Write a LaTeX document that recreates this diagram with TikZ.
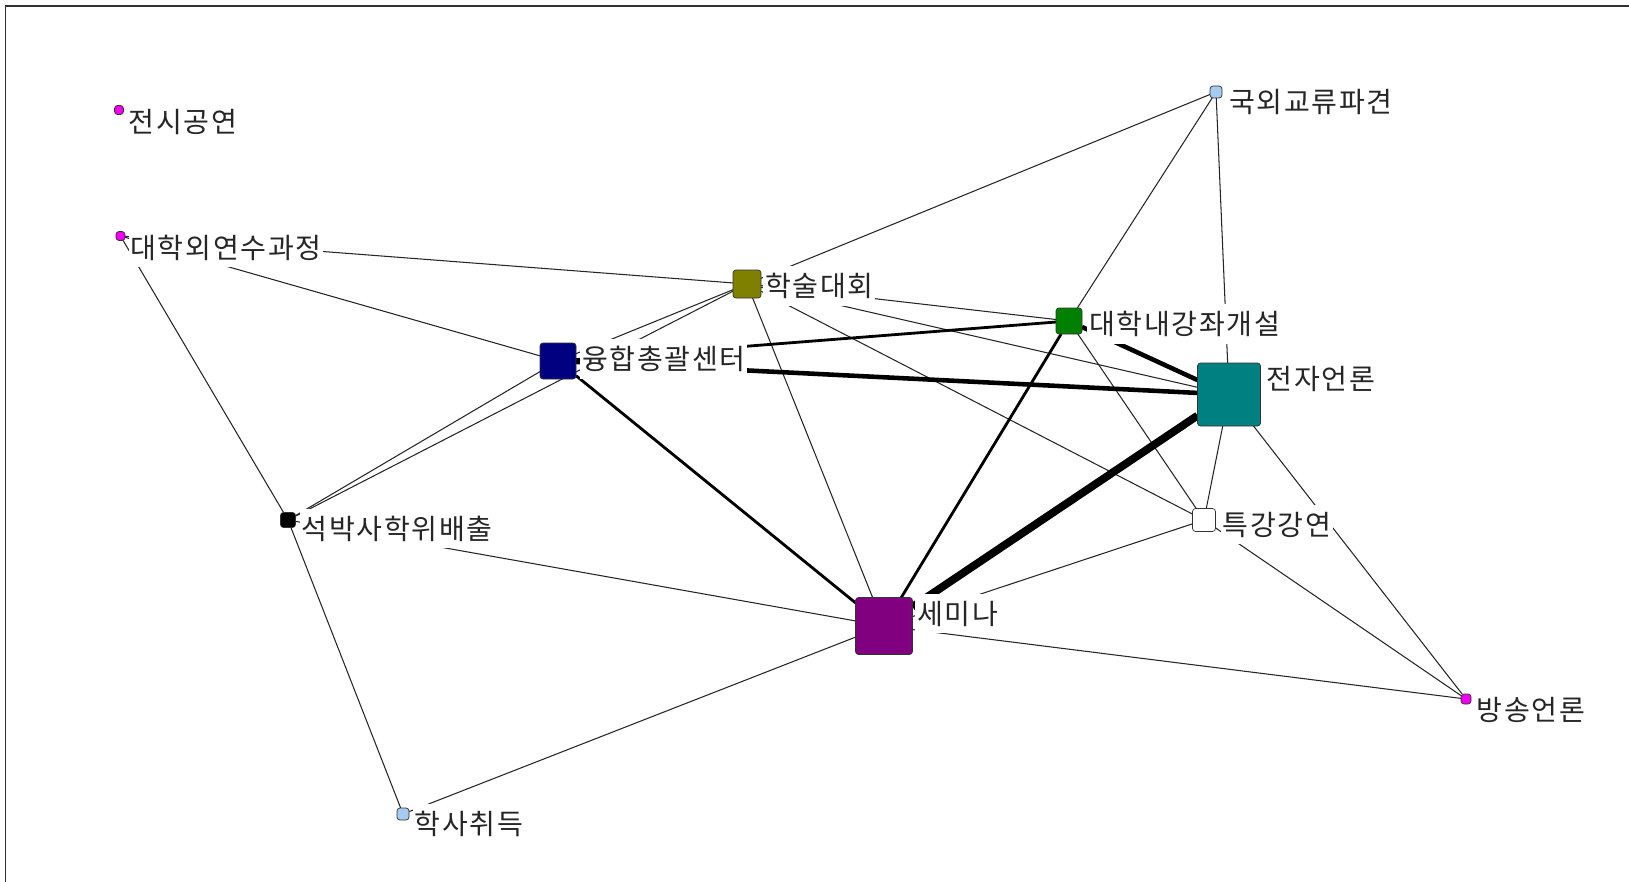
\documentclass[tikz,border=0pt]{standalone}
\usepackage{fontspec}
\setmainfont[LetterSpace=6]{Noto Sans CJK KR}

\definecolor{nodeMagenta}{RGB}{240,0,240}
\definecolor{nodeOlive}{RGB}{128,128,0}
\definecolor{nodeGreen}{RGB}{0,128,0}
\definecolor{nodeNavy}{RGB}{0,0,128}
\definecolor{nodeTeal}{RGB}{0,128,128}
\definecolor{nodeSky}{RGB}{166,202,240}
\definecolor{nodePurple}{RGB}{128,0,128}
\definecolor{frameGray}{RGB}{48,48,48}

\pgfdeclarelayer{background}
\pgfsetlayers{background,main}

\tikzset{
  actor/.style 2 args={draw=black!80, line width=0.4pt, rounded corners=0.06cm,
    fill=#1, minimum size=#2*0.02cm, inner sep=0pt, outer sep=0pt},
  actorName/.style={anchor=north west, fill=white, inner xsep=1pt, inner ysep=4pt,
    font=\fontsize{16}{18}\selectfont, text=black!85},
  tie/.style={line width=0.6pt, black!85},
  midTie/.style={line width=1.6pt},
  strongTie/.style={line width=2.6pt},
  topTie/.style={line width=4.5pt},
}

\begin{document}
\begin{tikzpicture}[x=0.02cm, y=-0.02cm]
  \useasboundingbox (0,0) rectangle (1629,882);
  \draw[frameGray, line width=0.04cm] (5.5,882) -- (5.5,6) -- (1629,6);

  % actors
  \node[actor={nodeMagenta}{9}] (exhibit) at (119,110) {};
  \node[actorName] (exhibitName) at ([xshift=0.065cm,yshift=0.08cm]exhibit.north east) {전시공연};

  \node[actor={nodeMagenta}{9}] (outsideCourse) at (120.5,236) {};
  \node[actorName] (outsideCourseName) at ([xshift=0.065cm,yshift=0.08cm]outsideCourse.north east) {대학외연수과정};

  \node[actor={nodeOlive}{28}] (conference) at (747,284) {};
  \node[actorName] (conferenceName) at ([xshift=0.04cm,yshift=0.08cm]conference.north east) {학술대회};

  \node[actor={nodeGreen}{26}] (lectureOpen) at (1069,321) {};
  \node[actorName] (lectureOpenName) at ([xshift=0.1cm,yshift=0.08cm]lectureOpen.north east) {대학내강좌개설};

  \node[actor={nodeNavy}{36}] (fusionCenter) at (558,361) {};
  \node[actorName] (fusionCenterName) at ([xshift=0.08cm,yshift=0.08cm]fusionCenter.north east) {융합총괄센터};

  \node[actor={nodeTeal}{63}] (eMedia) at (1229,394.5) {};
  \node[actorName] (eMediaName) at ([xshift=0.08cm,yshift=0.08cm]eMedia.north east) {전자언론};

  \node[actor={nodeSky}{12}] (abroad) at (1216,92) {};
  \node[actorName] (abroadName) at ([xshift=0.1cm,yshift=0.08cm]abroad.north east) {국외교류파견};

  \node[actor={black}{15}] (degree) at (288,520) {};
  \node[actorName] (degreeName) at ([xshift=0.08cm,yshift=0.08cm]degree.north east) {석박사학위배출};

  \node[actor={white}{23}] (specialLecture) at (1204,520) {};
  \node[actorName] (specialLectureName) at ([xshift=0.1cm,yshift=0.08cm]specialLecture.north east) {특강강연};

  \node[actor={nodePurple}{57}] (seminar) at (884,626) {};
  \node[actorName] (seminarName) at ([xshift=0.05cm,yshift=0.08cm]seminar.north east) {세미나};

  \node[actor={nodeMagenta}{10}] (broadcast) at (1466,699) {};
  \node[actorName] (broadcastName) at ([xshift=0.07cm,yshift=0.08cm]broadcast.north east) {방송언론};

  \node[actor={nodeSky}{12}] (bachelor) at (403,814) {};
  \node[actorName] (bachelorName) at ([xshift=0.07cm,yshift=0.08cm]bachelor.north east) {학사취득};

  % ties
  \begin{pgfonlayer}{background}
    \draw[tie] (abroad) -- (conference);
    \draw[tie] (abroad) -- (lectureOpen);
    \draw[tie] (abroad) -- (eMedia);
    \draw[tie] (outsideCourse) -- (conference);
    \draw[tie] (outsideCourse) -- (fusionCenter);
    \draw[tie] (outsideCourse) -- (degree);
    \draw[tie] (degree) -- (bachelor);
    \draw[tie] (degree) -- (fusionCenter);
    \draw[tie] (degree) -- (conference);
    \draw[tie] (degree) -- (seminar);
    \draw[tie] (fusionCenter) -- (conference);
    \draw[tie] (conference) -- (lectureOpen);
    \draw[tie] (conference) -- (eMedia);
    \draw[tie] (conference) -- (specialLecture);
    \draw[tie] (conference) -- (seminar);
    \draw[tie] (lectureOpen) -- (specialLecture);
    \draw[tie] (eMedia) -- (specialLecture);
    \draw[tie] (eMedia) -- (broadcast);
    \draw[tie] (specialLecture) -- (seminar);
    \draw[tie] (specialLecture) -- (broadcast);
    \draw[tie] (seminar) -- (bachelor);
    \draw[tie] (seminar) -- (broadcast);
    \draw[midTie] (fusionCenter) -- (lectureOpen);
    \draw[midTie] (fusionCenter) -- (seminar);
    \draw[midTie] (lectureOpen) -- (seminar);
    \draw[strongTie] (fusionCenter) -- (eMedia);
    \draw[strongTie] (lectureOpen) -- (eMedia);
    \draw[topTie] (seminar) -- (eMedia);
  \end{pgfonlayer}
\end{tikzpicture}
\end{document}
